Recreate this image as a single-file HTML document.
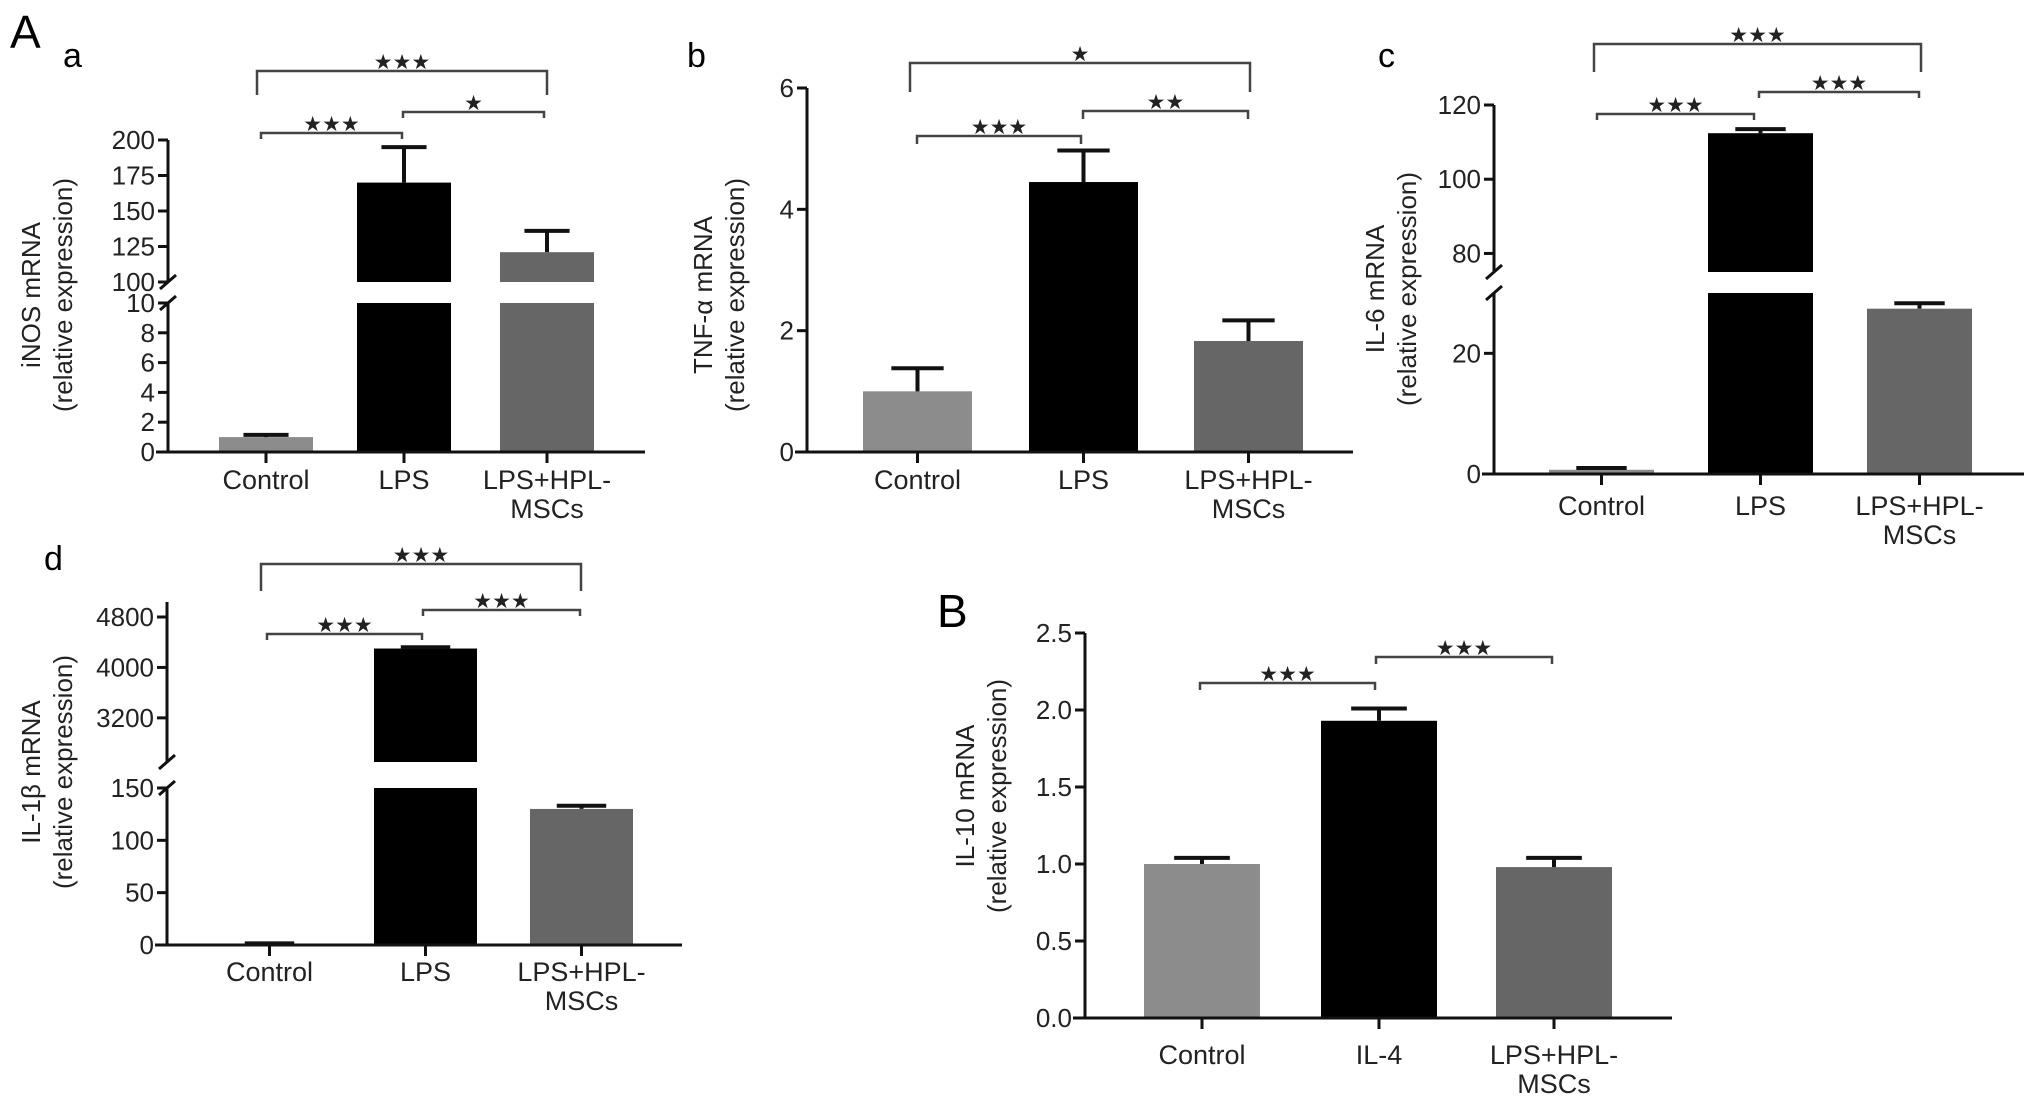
<!DOCTYPE html>
<html><head><meta charset="utf-8">
<style>
html,body{margin:0;padding:0;background:#fff;}
svg{display:block;font-family:"Liberation Sans",Arial,sans-serif;}
</style></head>
<body>
<svg id="fig" width="2032" height="1110" viewBox="0 0 2032 1110" xmlns="http://www.w3.org/2000/svg">
<text x="10" y="48" font-size="46">A</text>
<text x="63" y="67" font-size="34">a</text>
<text x="687" y="67" font-size="34">b</text>
<text x="1378" y="67" font-size="34">c</text>
<text x="44" y="570" font-size="34">d</text>
<text x="937" y="627" font-size="46">B</text>
</svg>
<script>
// ---- data ----
const catsLPS = ["Control","LPS","LPS+HPL-|MSCs"];
const catsIL4 = ["Control","IL-4","LPS+HPL-|MSCs"];
const aValues = [1.0, 170, 121];
const aErrors = [1.15, 195, 136];
const bValues = [1.0, 4.45, 1.83];
const bErrors = [1.38, 4.97, 2.17];
const cValues = [0.7, 112.4, 27.4];
const cErrors = [1.0, 113.5, 28.3];
const dValues = [1, 4300, 130];
const dErrors = [1.5, 4320, 133];
const BValues = [1.0, 1.93, 0.98];
const BErrors = [1.04, 2.01, 1.04];
const aTicksUpper = [100,125,150,175,200];
const aTicksLower = [0,2,4,6,8,10];
const bTicks = [0,2,4,6];
const cTicksUpper = [80,100,120];
const cTicksLower = [0,20];
const dTicksUpper = [3200,4000,4800];
const dTicksLower = [0,50,100,150];
const BTicks = ["0.0","0.5","1.0","1.5","2.0","2.5"];
const aSig = ["***","*","***"];
const bSig = ["***","**","*"];
const cSig = ["***","***","***"];
const dSig = ["***","***","***"];
const BSig = ["***","***"];
// ---- drawing ----
const NS="http://www.w3.org/2000/svg";
const svg=document.getElementById('fig');
const colors=["#8c8c8c","#000000","#666666"];
function mk(tag,attrs,parent){const e=document.createElementNS(NS,tag);for(const k in attrs)e.setAttribute(k,attrs[k]);(parent||svg).appendChild(e);return e;}
function panel(p){
  const g=mk('g',{});
  
  
  function yOf(v){for(const s of p.segs){if(v<=s.v1||s===p.segs[p.segs.length-1]){const vv=Math.max(s.v0,Math.min(v,s.v1));return s.y0-(vv-s.v0)/(s.v1-s.v0)*(s.y0-s.y1);}}}
  p.values.forEach((v,i)=>{
    p.segs.forEach(s=>{
      if(v>s.v0){
        const top=s.y0-(Math.min(v,s.v1)-s.v0)/(s.v1-s.v0)*(s.y0-s.y1);
        const r=mk('rect',{x:p.barX[i],y:top,width:p.barW,height:s.y0-top,fill:colors[i]},g);
        
        
      }
    });
    const cx=p.barX[i]+p.barW/2, yt=yOf(v), ye=yOf(p.errors[i]);
    const eb=mk('path',{d:`M${cx} ${yt}V${ye}M${cx-p.barW*0.24} ${ye}H${cx+p.barW*0.24}`,stroke:'#111','stroke-width':4,fill:'none'},g);
    
    
    mk('line',{x1:cx,y1:p.segs[0].y0,x2:cx,y2:p.segs[0].y0+11,stroke:'#111','stroke-width':3},g);
    const parts=p.cats[i].split('|');
    parts.forEach((t,k)=>{
      const tx=mk('text',{x:cx,y:p.segs[0].y0+p.labOff+k*29,'font-size':27,'text-anchor':'middle',fill:'#222'},g);
      tx.textContent=t;
      
      
    });
  });
  const ax=p.axisX;
  p.segs.forEach((s,si)=>{
    const top=s.y1;
    const l=mk('line',{x1:ax,y1:s.y0+(si===0?1.5:0),x2:ax,y2:top,stroke:'#111','stroke-width':3},g);
    
    
    s.ticks.forEach(t=>{
      const y=yOf(parseFloat(t));
      mk('line',{x1:ax-10,y1:y,x2:ax,y2:y,stroke:'#111','stroke-width':3},g);
      const tx=mk('text',{x:ax-13,y:y+9,'font-size':26,'text-anchor':'end',fill:'#222'},g);
      tx.textContent=t;
      
      
    });
    if(p.segs.length>1){
      const yb= si===0? top : s.y0;
      mk('line',{x1:ax-8,y1:yb+7,x2:ax+8,y2:yb-7,stroke:'#111','stroke-width':3},g);
    }
  });
  const xa=mk('line',{x1:ax-12,y1:p.segs[0].y0,x2:p.axisEnd,y2:p.segs[0].y0,stroke:'#111','stroke-width':3},g);
  
  
  const tt=mk('text',{transform:`translate(${p.titleX},${p.titleY}) rotate(-90)`,'text-anchor':'middle','font-size':26,fill:'#222'},g);
  
  
  const t1=mk('tspan',{x:0,y:0},tt);t1.textContent=p.title1;
  const t2=mk('tspan',{x:0,y:32},tt);t2.textContent="(relative expression)";
  p.brackets.forEach((b,i)=>{
    const br=mk('path',{d:`M${b[0]} ${b[3]}V${b[2]}H${b[1]}V${b[3]}`,stroke:'#444','stroke-width':2.5,fill:'none'},g);
    
    
    const st=mk('text',{x:(b[0]+b[1])/2,y:b[2]-2,'font-size':21,'text-anchor':'middle',fill:'#222'},g);
    st.textContent=p.sig[i].replace(/\*/g,'★');
    
    
  });
}
panel({name:'panel-a-inos',cats:catsLPS,values:aValues,errors:aErrors,axisX:168,axisEnd:645,
  segs:[{v0:0,v1:10,y0:452,y1:303,ticks:aTicksLower},{v0:100,v1:200,y0:282,y1:140,ticks:aTicksUpper}],
  barX:[219,357,500],barW:94,labOff:37,titleX:40,titleY:295,title1:"iNOS mRNA",sig:aSig,
  brackets:[[261,402,133,139],[403,544,112,118],[257,547,71,95]]});
panel({name:'panel-b-tnf',cats:catsLPS,values:bValues,errors:bErrors,axisX:807,axisEnd:1353,
  segs:[{v0:0,v1:6,y0:452,y1:88,ticks:bTicks}],
  barX:[863,1029,1194],barW:109,labOff:37,titleX:712,titleY:295,title1:"TNF-α mRNA",sig:bSig,
  brackets:[[917,1081,136,144],[1083,1248,111,119],[910,1250,63,92]]});
panel({name:'panel-c-il6',cats:catsLPS,values:cValues,errors:cErrors,axisX:1494,axisEnd:2024,
  segs:[{v0:0,v1:30,y0:474,y1:293,ticks:cTicksLower},{v0:75,v1:120,y0:272,y1:105,ticks:cTicksUpper}],
  barX:[1549,1708,1867],barW:105,labOff:41,titleX:1384,titleY:289,title1:"IL-6 mRNA",sig:cSig,
  brackets:[[1597,1754,114,120],[1759,1919,92,98],[1594,1921,44,72]]});
panel({name:'panel-d-il1b',cats:catsLPS,values:dValues,errors:dErrors,axisX:167,axisEnd:682,
  segs:[{v0:0,v1:150,y0:945,y1:788,ticks:dTicksLower},{v0:2500,v1:5038,y0:762,y1:602,ticks:dTicksUpper}],
  barX:[218,374,530],barW:103,labOff:36,titleX:40,titleY:772,title1:"IL-1β mRNA",sig:dSig,
  brackets:[[267,422,634,640],[423,580,610,616],[261,581,564,591]]});
panel({name:'panel-B-il10',cats:catsIL4,values:BValues,errors:BErrors,axisX:1085,axisEnd:1672,
  segs:[{v0:0,v1:2.5,y0:1018,y1:633,ticks:BTicks}],
  barX:[1144,1321,1496],barW:116,labOff:46,titleX:974,titleY:796,title1:"IL-10 mRNA",sig:BSig,
  brackets:[[1200,1375,683,690],[1376,1552,657,664]]});
</script>
</body></html>
